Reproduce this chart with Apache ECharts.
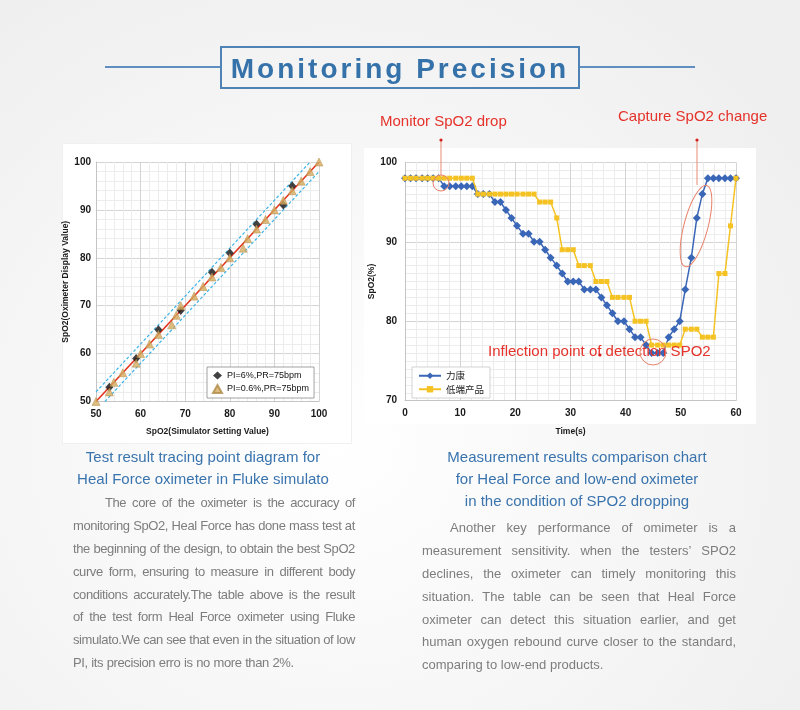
<!DOCTYPE html>
<html>
<head>
<meta charset="utf-8">
<script src="https://cdn.jsdelivr.net/npm/echarts@6/dist/echarts.min.js"></script>
<style>
html,body{margin:0;padding:0;width:800px;height:710px;overflow:hidden;}
body{position:relative;font-family:"Liberation Sans",Arial,sans-serif;
  background:radial-gradient(ellipse 70% 75% at 42% 62%, #ffffff 0%, #f8f8f8 45%, #efefef 100%);}
#chart{position:absolute;left:0;top:0;width:800px;height:710px;z-index:1;}
.tline{position:absolute;height:2px;background:#5f8fc0;top:66px;z-index:2;}
#titleBox{position:absolute;left:220px;top:46px;width:356px;height:39px;border:2px solid #4f82b5;
  text-align:center;line-height:41px;font-size:28px;font-weight:bold;letter-spacing:3px;color:#3572aa;z-index:2;}
.cap{position:absolute;z-index:2;color:#3a74ae;font-size:15px;line-height:22px;text-align:center;white-space:nowrap;}
.para{position:absolute;z-index:2;color:#7d7d7d;font-size:13px;}
.para .ln{display:flex;justify-content:space-between;height:22.9px;line-height:22.9px;white-space:nowrap;}
.para .ln.last{justify-content:flex-start;}
.para .ln.last span{margin-right:0.28em;}
.panel{position:absolute;background:#ffffff;z-index:0;}
</style>
</head>
<body>
<div class="panel" style="left:62px;top:143px;width:288px;height:299px;border:1px solid #f0f0f0;"></div>
<div class="panel" style="left:364px;top:148px;width:392px;height:276px;"></div>
<div id="chart"></div>
<div class="tline" style="left:105px;width:115px;"></div>
<div class="tline" style="left:580px;width:115px;"></div>
<div id="titleBox">Monitoring Precision</div>
<div class="cap" style="left:63px;top:446px;width:280px;">Test result tracing point diagram for<br>Heal Force oximeter in Fluke simulato</div>
<div class="cap" style="left:427px;top:446px;width:300px;">Measurement results comparison chart<br>for Heal Force and low-end oximeter<br>in the condition of SPO2 dropping</div>
<div class="para" id="paraL" style="left:73px;top:492px;width:282px;letter-spacing:-0.4px;"></div>
<div class="para" id="paraR" style="left:422px;top:517px;width:314px;"></div>
<script>
// ---------- Left chart data ----------
const simTicks = [50, 60, 70, 80, 90, 100];
const pi6Sim   = [53, 59, 64, 69, 76, 80, 86, 92, 94];
const pi6Disp  = [53, 59, 65, 69, 77, 81, 87, 91, 95];
const pi06Sim  = [50, 53, 54, 56, 59, 60, 62, 64, 67, 68, 69, 72, 74, 76, 78, 80, 83, 84, 86, 88, 90, 92, 94, 96, 98, 100];
const pi06Disp = [50, 52, 54, 56, 58, 60, 62, 64, 66, 68, 70, 72, 74, 76, 78, 80, 82, 84, 86, 88, 90, 92, 94, 96, 98, 100];
const refLine   = [[50, 50], [100, 100]];
const upperBand = [[50, 52], [98, 100]];
const lowerBand = [[52, 50], [100, 98]];

// ---------- Right chart data ----------
const timeS = [0, 1, 2, 3.1, 4.1, 5.1, 6.1, 7.1, 8.1, 9.2, 10.2, 11.2, 12.2, 13.2, 14.2, 15.3, 16.3, 17.3, 18.3, 19.3,
  20.3, 21.4, 22.4, 23.4, 24.4, 25.4, 26.4, 27.5, 28.5, 29.5, 30.5, 31.5, 32.5, 33.6, 34.6, 35.6, 36.6, 37.6, 38.6, 39.7,
  40.7, 41.7, 42.7, 43.7, 44.7, 45.8, 46.8, 47.8, 48.8, 49.8, 50.8, 51.9, 52.9, 53.9, 54.9, 55.9, 56.9, 58, 59, 60];
const likangSpo2 = [98, 98, 98, 98, 98, 98, 98, 97, 97, 97, 97, 97, 97, 96, 96, 96, 95, 95, 94, 93,
  92, 91, 91, 90, 90, 89, 88, 87, 86, 85, 85, 85, 84, 84, 84, 83, 82, 81, 80, 80,
  79, 78, 78, 77, 76, 76, 76, 78, 79, 80, 84, 88, 93, 96, 98, 98, 98, 98, 98, 98];
const lowEndSpo2 = [98, 98, 98, 98, 98, 98, 98, 98, 98, 98, 98, 98, 98, 96, 96, 96, 96, 96, 96, 96,
  96, 96, 96, 96, 95, 95, 95, 93, 89, 89, 89, 87, 87, 87, 85, 85, 85, 83, 83, 83,
  83, 80, 80, 80, 77, 77, 77, 77, 77, 77, 79, 79, 79, 78, 78, 78, 86, 86, 92, 98];
const seriesNames = ['力康', '低端产品'];
const leftLegend = ['PI=6%,PR=75bpm', 'PI=0.6%,PR=75bpm'];

// ---------- Paragraph text ----------
const paraLeft = [
  'The core of the oximeter is the accuracy of',
  'monitoring SpO2, Heal Force has done mass test at',
  'the beginning of the design, to obtain the best SpO2',
  'curve form, ensuring to measure in different body',
  'conditions accurately.The table above is the result',
  'of the test form Heal Force oximeter using Fluke',
  'simulato.We can see that even in the situation of low',
  'PI, its precision erro is no more than 2%.'
];
const paraRight = [
  'Another key performance of omimeter is a',
  'measurement sensitivity. when the testers’  SPO2',
  'declines, the oximeter can timely monitoring this',
  'situation. The table can be seen that Heal Force',
  'oximeter can detect this situation earlier, and get',
  'human oxygen rebound curve closer to the standard,',
  'comparing to low-end products.'
];

function fillPara(id, lines, indent) {
  const el = document.getElementById(id);
  lines.forEach((l, i) => {
    const d = document.createElement('div');
    d.className = 'ln' + (i === lines.length - 1 ? ' last' : '');
    if (i === 0) d.style.paddingLeft = indent + 'px';
    l.split(/\s+/).forEach(w => { const s = document.createElement('span'); s.textContent = w; d.appendChild(s); });
    el.appendChild(d);
  });
}
fillPara('paraL', paraLeft, 32);
fillPara('paraR', paraRight, 28);

const zip = (a, b) => a.map((v, i) => [v, b[i]]);
const FONT = '"Liberation Sans", Arial, sans-serif';
const axisLbl = { color: '#1a1a1a', fontSize: 10, fontWeight: 'bold', fontFamily: FONT };
const nameStyle = { color: '#1a1a1a', fontSize: 8.5, fontWeight: 'bold', fontFamily: FONT };
const major = { show: true, lineStyle: { color: '#d4d4d4', width: 1 } };
const minor = { show: true, lineStyle: { color: '#ececec', width: 1 } };

const chart = echarts.init(document.getElementById('chart'), null, { renderer: 'canvas' });
chart.setOption({
  animation: false,
  backgroundColor: 'transparent',
  textStyle: { fontFamily: FONT },
  grid: [
    { left: 96, top: 162, width: 223, height: 239.5, show: true, backgroundColor: '#fff', borderWidth: 0 },
    { left: 405, top: 162.3, width: 331, height: 238.4, show: true, backgroundColor: '#fff', borderWidth: 0 }
  ],
  xAxis: [
    { type: 'value', gridIndex: 0, min: simTicks[0], max: simTicks[simTicks.length - 1], interval: 10,
      axisLine: { show: true, lineStyle: { color: '#c4c4c4' } }, axisTick: { show: false },
      axisLabel: Object.assign({ margin: 8 }, axisLbl), splitLine: major,
      minorTick: { show: false, splitNumber: 5 }, minorSplitLine: minor,
      name: 'SpO2(Simulator Setting Value)', nameLocation: 'middle', nameGap: 26, nameTextStyle: nameStyle },
    { type: 'value', gridIndex: 1, min: 0, max: 60, interval: 10,
      axisLine: { show: true, lineStyle: { color: '#c4c4c4' } }, axisTick: { show: false },
      axisLabel: Object.assign({ margin: 8 }, axisLbl), splitLine: major,
      minorTick: { show: false, splitNumber: 5 }, minorSplitLine: minor,
      name: 'Time(s)', nameLocation: 'middle', nameGap: 26, nameTextStyle: nameStyle }
  ],
  yAxis: [
    { type: 'value', gridIndex: 0, min: 50, max: 100, interval: 10,
      axisLine: { show: true, lineStyle: { color: '#c4c4c4' } }, axisTick: { show: false },
      axisLabel: Object.assign({ margin: 5 }, axisLbl), splitLine: major,
      minorTick: { show: false, splitNumber: 5 }, minorSplitLine: minor,
      name: 'SpO2(Oximeter Display Value)', nameLocation: 'middle', nameGap: 24, nameRotate: 90, nameTextStyle: nameStyle },
    { type: 'value', gridIndex: 1, min: 70, max: 100, interval: 10,
      axisLine: { show: true, lineStyle: { color: '#c4c4c4' } }, axisTick: { show: false },
      axisLabel: Object.assign({ margin: 8 }, axisLbl), splitLine: major,
      minorTick: { show: false, splitNumber: 10 }, minorSplitLine: minor,
      name: 'SpO2(%)', nameLocation: 'middle', nameGap: 26, nameRotate: 90, nameTextStyle: nameStyle }
  ],
  legend: [
    { data: [{ name: leftLegend[0], icon: 'diamond' }, { name: leftLegend[1], icon: 'triangle' }],
      orient: 'vertical', left: 207, top: 367, backgroundColor: '#fff', borderColor: '#8c8c8c', borderWidth: 0.8,
      padding: [4, 5, 4, 5], itemGap: 4, itemWidth: 9, itemHeight: 8,
      textStyle: { fontSize: 9, color: '#111', fontFamily: FONT } },
    { data: seriesNames, orient: 'vertical', left: 412, top: 367, backgroundColor: '#fff', borderColor: '#c8c8c8', borderWidth: 0.8,
      padding: [4, 6, 4, 6], itemGap: 4, itemWidth: 22, itemHeight: 8,
      textStyle: { fontSize: 9.5, color: '#222', fontFamily: '"Noto Sans CJK SC", sans-serif' } }
  ],
  series: [
    { type: 'line', xAxisIndex: 0, yAxisIndex: 0, data: refLine, symbol: 'none', z: 3,
      lineStyle: { color: '#e4321c', width: 1.6 } },
    { type: 'line', xAxisIndex: 0, yAxisIndex: 0, data: upperBand, symbol: 'none', z: 3,
      lineStyle: { color: '#3fb4e8', width: 1.2, type: [3, 2] } },
    { type: 'line', xAxisIndex: 0, yAxisIndex: 0, data: lowerBand, symbol: 'none', z: 3,
      lineStyle: { color: '#3fb4e8', width: 1.2, type: [3, 2] } },
    { type: 'scatter', name: leftLegend[0], xAxisIndex: 0, yAxisIndex: 0, data: zip(pi6Sim, pi6Disp),
      symbol: 'diamond', symbolSize: [8, 9], z: 4, itemStyle: { color: '#111111' } },
    { type: 'scatter', name: leftLegend[1], xAxisIndex: 0, yAxisIndex: 0, data: zip(pi06Sim, pi06Disp),
      symbol: 'triangle', symbolSize: 8, z: 5, itemStyle: { color: '#d4ab5f', borderColor: '#b08a48', borderWidth: 0.6 } },
    { type: 'line', name: seriesNames[0], xAxisIndex: 1, yAxisIndex: 1, data: zip(timeS, likangSpo2),
      symbol: 'diamond', symbolSize: 8, showSymbol: true, z: 3,
      lineStyle: { color: '#3a66b7', width: 1.5 }, itemStyle: { color: '#3a66b7' } },
    { type: 'line', name: seriesNames[1], xAxisIndex: 1, yAxisIndex: 1, data: zip(timeS, lowEndSpo2),
      symbol: 'rect', symbolSize: 5, showSymbol: true, z: 4,
      lineStyle: { color: '#f5c224', width: 1.5 }, itemStyle: { color: '#f5c224' } }
  ],
  graphic: [
    { type: 'text', left: 380, top: 114, z: 10, style: { text: 'Monitor SpO2 drop', fill: '#e5322a', fontSize: 15, fontFamily: FONT } },
    { type: 'text', left: 618, top: 109, z: 10, style: { text: 'Capture SpO2 change', fill: '#e5322a', fontSize: 15, fontFamily: FONT } },
    { type: 'text', left: 488, top: 344, z: 10, style: { text: 'Inflection point of detection SPO2', fill: '#e5322a', fontSize: 15, fontFamily: FONT } },
    { type: 'line', z: 10, shape: { x1: 441, y1: 140, x2: 441, y2: 175 }, style: { stroke: '#e88a72', lineWidth: 1 } },
    { type: 'line', z: 10, shape: { x1: 697, y1: 140, x2: 697, y2: 185 }, style: { stroke: '#e88a72', lineWidth: 1 } },
    { type: 'circle', z: 10, shape: { cx: 441, cy: 140, r: 1.6 }, style: { fill: '#d42020' } },
    { type: 'circle', z: 10, shape: { cx: 697, cy: 140, r: 1.6 }, style: { fill: '#d42020' } },
    { type: 'circle', z: 10, shape: { cx: 600, cy: 355, r: 1.6 }, style: { fill: '#d42020' } },
    { type: 'circle', z: 10, shape: { cx: 441, cy: 183, r: 8 }, style: { fill: 'none', stroke: '#e8826a', lineWidth: 1 } },
    { type: 'ellipse', z: 10, x: 696, y: 226, rotation: -0.26, shape: { cx: 0, cy: 0, rx: 12, ry: 42 },
      style: { fill: 'none', stroke: '#e8826a', lineWidth: 1 } },
    { type: 'circle', z: 10, shape: { cx: 653, cy: 352, r: 13 }, style: { fill: 'none', stroke: '#e8826a', lineWidth: 1 } }
  ]
});
</script>
</body>
</html>
